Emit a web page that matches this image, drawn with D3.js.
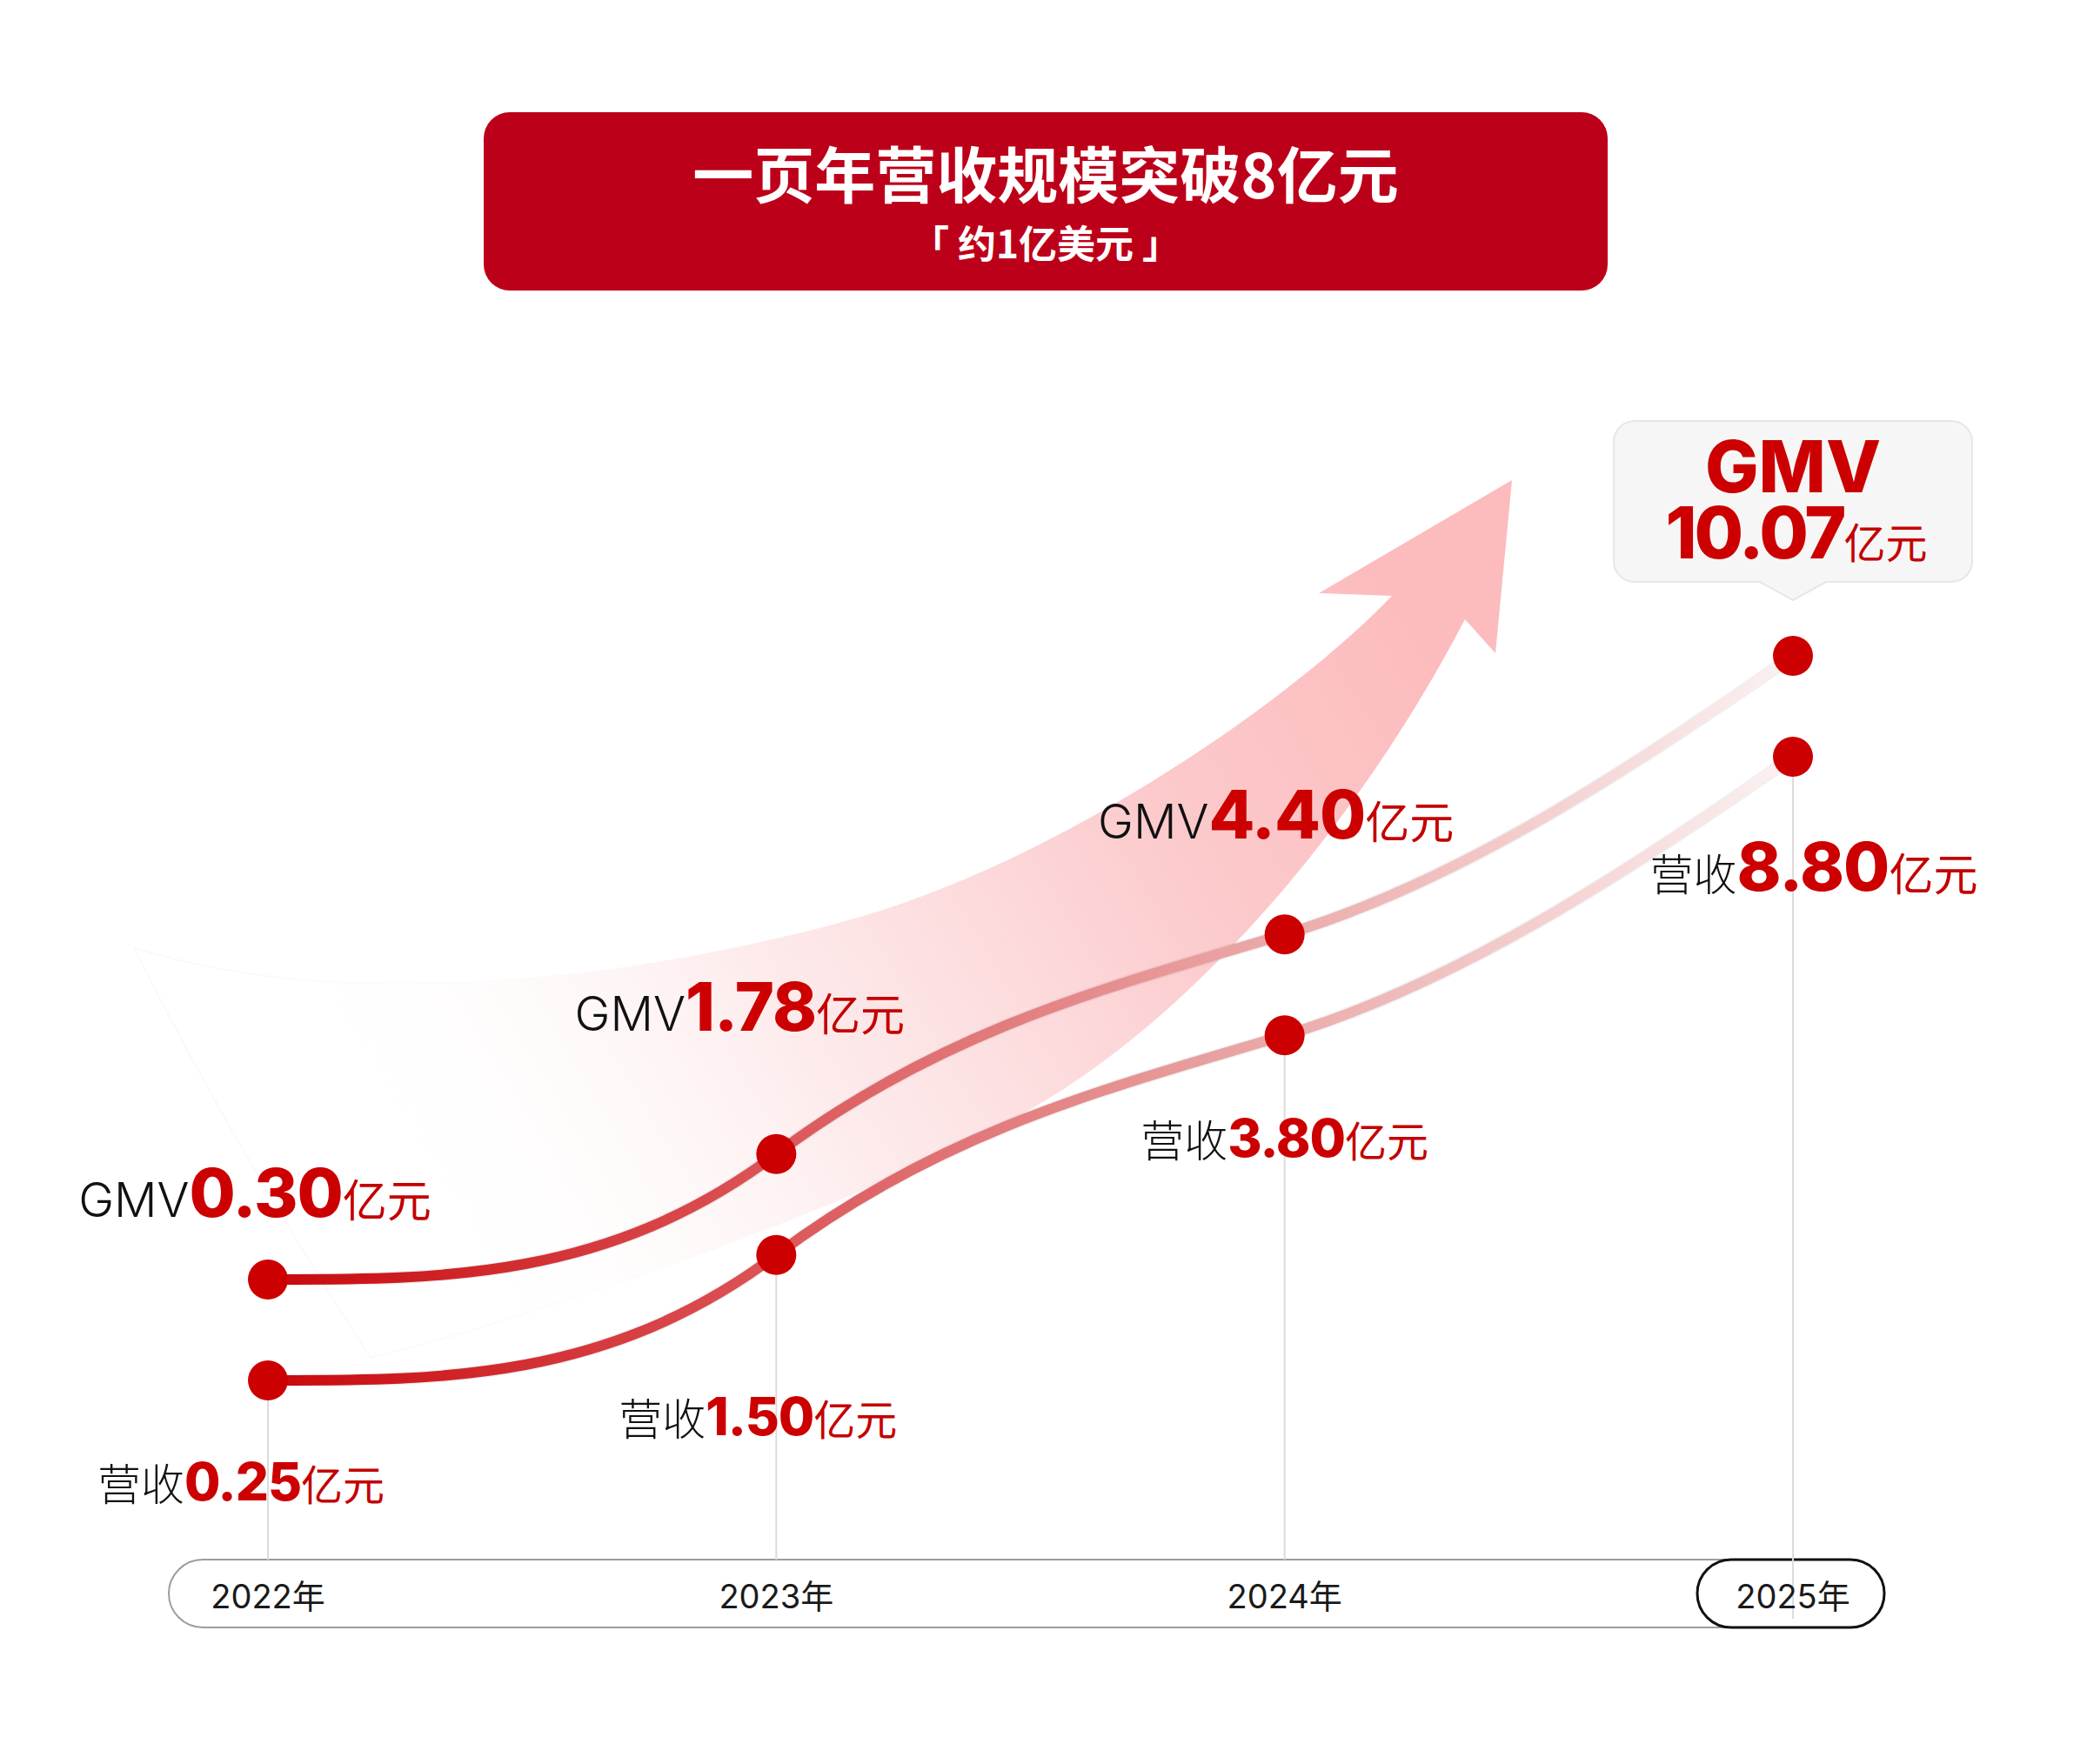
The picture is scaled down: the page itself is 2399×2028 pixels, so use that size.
<!DOCTYPE html>
<html>
<head>
<meta charset="utf-8">
<script src="https://cdn.jsdelivr.net/npm/d3@7"></script>
<style>
  html, body { margin: 0; padding: 0; background: #fff; }
  svg { display: block; }
</style>
</head>
<body>
<div id="chart"></div>
<script>
// data
const years = ["2022年", "2023年", "2024年", "2025年"];
const seriesNames = ["GMV", "营收"];
const gmv = [0.30, 1.78, 4.40, 10.07];
const revenue = [0.25, 1.50, 3.80, 8.80];
const unit = "亿元";
const title = "一页年营收规模突破8亿元";
const subtitle = "「 约1亿美元 」";

// layout
var width = 2399, height = 2028;
var red = "#cc0000";
var numFont = "Inter, 'Noto Sans', sans-serif";
var cjkFont = "'Noto Sans CJK SC', sans-serif";

// curve shape: slope of the line at each stage (hand drawn look)
var tangent = [0, 0.75, 0.3, 0.7];
// label nudges (dx, dy from dot), gmv above / revenue below
var gmvShift = [[-15, -72], [-42, -142], [-10, -110]];
var revShift = [[-31, 138], [-21, 207], [0, 140], [24, 154]];
var revNumSize = [60, 60, 60, 77];

var svg = d3.select("#chart")
    .append("svg")
    .attr("width", width)
    .attr("height", height);

var defs = svg.append("defs");

var x = d3.scalePoint()
    .domain(years)
    .range([308, 2061]);

// schematic growth: vertical position by stage, not to value scale
var stage = d3.scalePow()
    .exponent(1.46)
    .domain([0, years.length - 1])
    .range([1471, 754]);

var offset = d3.scalePoint()
    .domain(seriesNames)
    .range([0, 116]);

function toPoints(name, values) {
    return values.map(function (v, i) {
        return { year: years[i], value: v, x: x(years[i]), y: stage(i) + offset(name) };
    });
}
var series = [
    { name: "GMV", points: toPoints("GMV", gmv) },
    { name: "营收", points: toPoints("营收", revenue) }
];

// ---- big decorative arrow ----
var ag = defs.append("linearGradient")
    .attr("id", "arrowFill")
    .attr("gradientUnits", "userSpaceOnUse")
    .attr("x1", 480).attr("y1", 1400)
    .attr("x2", 1640).attr("y2", 700);
ag.append("stop").attr("offset", 0).attr("stop-color", "#ffffff").attr("stop-opacity", 0);
ag.append("stop").attr("offset", 0.35).attr("stop-color", "#fde8e9").attr("stop-opacity", 0.85);
ag.append("stop").attr("offset", 0.7).attr("stop-color", "#fccbcd");
ag.append("stop").attr("offset", 1).attr("stop-color", "#fcbbbd");

var ae = defs.append("linearGradient")
    .attr("id", "arrowEdge")
    .attr("gradientUnits", "userSpaceOnUse")
    .attr("x1", 150).attr("y1", 1300)
    .attr("x2", 900).attr("y2", 1000);
ae.append("stop").attr("offset", 0).attr("stop-color", "#eeeeee").attr("stop-opacity", 0.4);
ae.append("stop").attr("offset", 1).attr("stop-color", "#f4f4f4").attr("stop-opacity", 0);

var ap = d3.path();
ap.moveTo(1738, 552);
ap.lineTo(1516, 682);
ap.lineTo(1600, 685);
ap.bezierCurveTo(1480, 810, 1210, 995, 968, 1060);
ap.bezierCurveTo(720, 1127, 400, 1165, 154, 1090);
ap.quadraticCurveTo(270, 1320, 426, 1561);
ap.bezierCurveTo(650, 1505, 1000, 1380, 1185, 1275);
ap.bezierCurveTo(1370, 1170, 1560, 950, 1684, 712);
ap.lineTo(1719, 751);
ap.closePath();

svg.append("path")
    .attr("d", ap.toString())
    .attr("fill", "url(#arrowFill)")
    .attr("stroke", "url(#arrowEdge)")
    .attr("stroke-width", 2);

// ---- timeline capsule ----
var capTop = 1793, capH = 78;
var x0 = x(years[0]), x3 = x(years[years.length - 1]);

svg.append("rect")
    .attr("x", x0 - 114)
    .attr("y", capTop)
    .attr("width", x3 - x0 + 219)
    .attr("height", capH)
    .attr("rx", capH / 2)
    .attr("fill", "#fff")
    .attr("stroke", "#9c9c9c")
    .attr("stroke-width", 2);

svg.append("rect")
    .attr("x", x3 - 110)
    .attr("y", capTop)
    .attr("width", 215)
    .attr("height", capH)
    .attr("rx", capH / 2)
    .attr("fill", "#fff")
    .attr("stroke", "#111")
    .attr("stroke-width", 3);

// guide lines from revenue dots down to the timeline
svg.append("g")
    .selectAll("line")
    .data(series[1].points)
    .enter().append("line")
    .attr("x1", function (d) { return d.x; })
    .attr("x2", function (d) { return d.x; })
    .attr("y1", function (d) { return d.y; })
    .attr("y2", function (d, i) { return i === years.length - 1 ? capTop + 68 : capTop; })
    .attr("stroke", "#dcdcdc")
    .attr("stroke-width", 2);

svg.append("g")
    .selectAll("text")
    .data(years)
    .enter().append("text")
    .attr("x", function (d) { return x(d); })
    .attr("y", capTop + 56)
    .attr("text-anchor", "middle")
    .attr("font-family", numFont + ", " + cjkFont)
    .attr("font-size", 38)
    .attr("fill", "#1a1a1a")
    .text(function (d) { return d; });

// ---- growth lines ----
var lg = defs.append("linearGradient")
    .attr("id", "lineGrad")
    .attr("gradientUnits", "userSpaceOnUse")
    .attr("x1", x0).attr("y1", 0)
    .attr("x2", x3).attr("y2", 0);
lg.append("stop").attr("offset", 0).attr("stop-color", "#c8080c");
lg.append("stop").attr("offset", 0.3).attr("stop-color", "#da4d50");
lg.append("stop").attr("offset", 0.62).attr("stop-color", "#e9a0a0");
lg.append("stop").attr("offset", 0.85).attr("stop-color", "#f5d3d3");
lg.append("stop").attr("offset", 1).attr("stop-color", "#fbf2f2");

// cubic hermite through the points with the given slopes
function smoothPath(pts) {
    var p = d3.path();
    p.moveTo(pts[0].x, pts[0].y);
    for (var i = 1; i < pts.length; i++) {
        var a = pts[i - 1], b = pts[i], h = (b.x - a.x) / 3;
        p.bezierCurveTo(a.x + h, a.y - tangent[i - 1] * h,
            b.x - h, b.y + tangent[i] * h, b.x, b.y);
    }
    return p.toString();
}

var lines = svg.append("g");
lines.selectAll("path.shadow")
    .data(series)
    .enter().append("path")
    .attr("class", "shadow")
    .attr("d", function (d) { return smoothPath(d.points); })
    .attr("fill", "none")
    .attr("stroke", "#000")
    .attr("stroke-opacity", 0.06)
    .attr("stroke-width", 15);
lines.selectAll("path.main")
    .data(series)
    .enter().append("path")
    .attr("class", "main")
    .attr("d", function (d) { return smoothPath(d.points); })
    .attr("fill", "none")
    .attr("stroke", "url(#lineGrad)")
    .attr("stroke-width", 12);

// dots
svg.append("g")
    .selectAll("g")
    .data(series)
    .enter().append("g")
    .selectAll("circle")
    .data(function (d) { return d.points; })
    .enter().append("circle")
    .attr("cx", function (d) { return d.x; })
    .attr("cy", function (d) { return d.y; })
    .attr("r", 23)
    .attr("fill", red);

// ---- value labels ----
var fmt = d3.format(".2f");

function valueLabel(g, name, d, shift, numSize) {
    var t = g.append("text")
        .attr("x", d.x + shift[0])
        .attr("y", d.y + shift[1])
        .attr("text-anchor", "middle");
    t.append("tspan")
        .attr("font-family", name === "GMV" ? numFont : cjkFont)
        .attr("font-weight", 300)
        .attr("font-size", name === "GMV" ? 55 : 50)
        .attr("fill", "#111")
        .text(name);
    t.append("tspan")
        .attr("font-family", numFont)
        .attr("font-weight", 800)
        .attr("font-size", numSize)
        .attr("letter-spacing", -1)
        .attr("fill", red)
        .text(fmt(d.value));
    t.append("tspan")
        .attr("font-family", cjkFont)
        .attr("font-weight", 400)
        .attr("font-size", numSize > 70 ? 51 : 48)
        .attr("fill", "#c40000")
        .text(unit);
}

var labels = svg.append("g");
series[0].points.slice(0, years.length - 1).forEach(function (d, i) {
    valueLabel(labels, "GMV", d, gmvShift[i], 77);
});
series[1].points.forEach(function (d, i) {
    valueLabel(labels, "营收", d, revShift[i], revNumSize[i]);
});

// ---- callout for latest GMV ----
var last = series[0].points[years.length - 1];
var bw = 412, bh = 185, br = 24, tipW = 38, tipH = 21;
var bx = last.x - bw / 2, by = last.y - 64 - tipH - bh;

var cp = d3.path();
cp.moveTo(bx + br, by);
cp.lineTo(bx + bw - br, by);
cp.arcTo(bx + bw, by, bx + bw, by + br, br);
cp.lineTo(bx + bw, by + bh - br);
cp.arcTo(bx + bw, by + bh, bx + bw - br, by + bh, br);
cp.lineTo(last.x + tipW, by + bh);
cp.lineTo(last.x, by + bh + tipH);
cp.lineTo(last.x - tipW, by + bh);
cp.lineTo(bx + br, by + bh);
cp.arcTo(bx, by + bh, bx, by + bh - br, br);
cp.lineTo(bx, by + br);
cp.arcTo(bx, by, bx + br, by, br);
cp.closePath();

svg.append("path")
    .attr("d", cp.toString())
    .attr("fill", "#f6f6f6")
    .attr("stroke", "#e7e7e7")
    .attr("stroke-width", 2)
    .attr("stroke-linejoin", "round");

var callout = svg.append("text")
    .attr("text-anchor", "middle")
    .attr("font-family", numFont)
    .attr("font-weight", 800)
    .attr("fill", red);
callout.append("tspan")
    .attr("x", last.x)
    .attr("y", by + 82)
    .attr("font-size", 82)
    .text(seriesNames[0]);
callout.append("tspan")
    .attr("x", last.x + 4)
    .attr("y", by + 158)
    .attr("font-size", 82)
    .attr("letter-spacing", -3)
    .text(fmt(last.value));
callout.append("tspan")
    .attr("font-family", cjkFont)
    .attr("font-weight", 400)
    .attr("font-size", 48)
    .attr("letter-spacing", 0)
    .attr("fill", "#c40000")
    .text(unit);

// ---- title banner ----
svg.append("rect")
    .attr("x", 556)
    .attr("y", 129)
    .attr("width", 1292)
    .attr("height", 205)
    .attr("rx", 30)
    .attr("fill", "#bd0019");

svg.append("text")
    .attr("x", 1202)
    .attr("y", 228)
    .attr("text-anchor", "middle")
    .attr("font-family", cjkFont)
    .attr("font-weight", 700)
    .attr("font-size", 70)
    .attr("fill", "#fff")
    .text(title);

svg.append("text")
    .attr("x", 1202)
    .attr("y", 297)
    .attr("text-anchor", "middle")
    .attr("font-family", cjkFont)
    .attr("font-weight", 700)
    .attr("font-size", 44)
    .attr("fill", "#fff")
    .text(subtitle);
</script>
</body>
</html>
